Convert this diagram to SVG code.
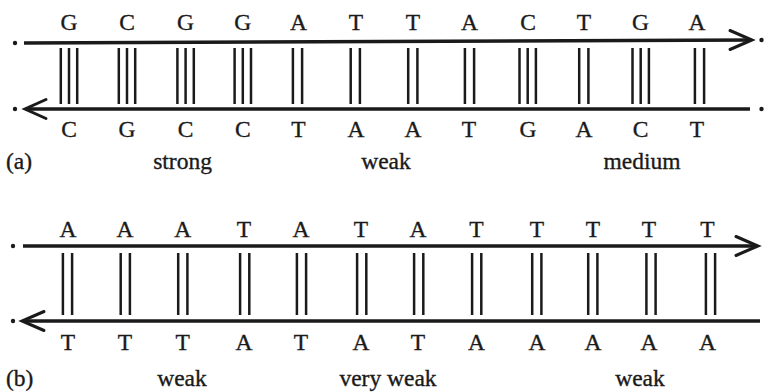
<svg xmlns="http://www.w3.org/2000/svg" width="764" height="392" viewBox="0 0 764 392" font-family="'Liberation Serif', 'DejaVu Serif', serif">
<style>
text{font-family:'Liberation Serif','DejaVu Serif',serif;font-size:23.5px;fill:#1a1a1a;stroke:#1a1a1a;stroke-width:0.35;text-anchor:middle}
.strand{stroke:#1a1a1a;stroke-width:3.6;fill:none}
.head{stroke:#1a1a1a;stroke-width:3;fill:none;stroke-linecap:round;stroke-linejoin:miter}
.bond{stroke:#1a1a1a;stroke-width:2.5}
.dot{fill:#1a1a1a}
.lbl{text-anchor:start}
</style>
<defs>
<g id="b3a"><line class="bond" x1="-8.2" y1="48" x2="-8.2" y2="104"/><line class="bond" x1="0" y1="48" x2="0" y2="104"/><line class="bond" x1="8.2" y1="48" x2="8.2" y2="104"/></g>
<g id="b2a"><line class="bond" x1="-4.6" y1="48" x2="-4.6" y2="104"/><line class="bond" x1="4.6" y1="48" x2="4.6" y2="104"/></g>
<g id="b2b"><line class="bond" x1="-4.6" y1="253" x2="-4.6" y2="315"/><line class="bond" x1="4.6" y1="253" x2="4.6" y2="315"/></g>
</defs>
<g id="connectors">
<line class="strand" x1="24" y1="43" x2="751" y2="40"/>
<polyline class="head" points="730,30.5 752,40 730,49.5"/>
<line class="strand" x1="27" y1="109" x2="750" y2="109"/>
<polyline class="head" points="46,99.5 25,109 46,118.5"/>
<line class="strand" x1="23" y1="246" x2="757" y2="246"/>
<polyline class="head" points="736,236.5 758,246 736,255.5"/>
<line class="strand" x1="23" y1="321" x2="760" y2="321"/>
<polyline class="head" points="44,311.5 22,321 44,330.5"/>
<circle class="dot" cx="15" cy="43" r="2.2"/>
<circle class="dot" cx="15" cy="109" r="2.2"/>
<circle class="dot" cx="761.5" cy="40" r="2.2"/>
<circle class="dot" cx="761.5" cy="109" r="2.2"/>
<circle class="dot" cx="13" cy="246" r="2.2"/>
<circle class="dot" cx="13" cy="321" r="2.2"/>
</g>
<g id="pair-a1"><use href="#b3a" x="69"/><text x="69" y="30">G</text><text x="69" y="137">C</text></g>
<g id="pair-a2"><use href="#b3a" x="127"/><text x="127" y="30">C</text><text x="127" y="137">G</text></g>
<g id="pair-a3"><use href="#b3a" x="185.6"/><text x="185.6" y="30">G</text><text x="185.6" y="137">C</text></g>
<g id="pair-a4"><use href="#b3a" x="242.8"/><text x="242.8" y="30">G</text><text x="242.8" y="137">C</text></g>
<g id="pair-a5"><use href="#b2a" x="297.5"/><text x="298.5" y="30">A</text><text x="298.5" y="137">T</text></g>
<g id="pair-a6"><use href="#b2a" x="355.3"/><text x="356" y="30">T</text><text x="356" y="137">A</text></g>
<g id="pair-a7"><use href="#b2a" x="412.8"/><text x="413" y="30">T</text><text x="413" y="137">A</text></g>
<g id="pair-a8"><use href="#b2a" x="469.5"/><text x="469.5" y="30">A</text><text x="469" y="137">T</text></g>
<g id="pair-a9"><use href="#b3a" x="527.7"/><text x="528" y="30">C</text><text x="528" y="137">G</text></g>
<g id="pair-a10"><use href="#b2a" x="583.8"/><text x="584" y="30">T</text><text x="584" y="137">A</text></g>
<g id="pair-a11"><use href="#b3a" x="640.7"/><text x="640.5" y="30">G</text><text x="640.5" y="137">C</text></g>
<g id="pair-a12"><use href="#b2a" x="699.5"/><text x="697" y="30">A</text><text x="697" y="137">T</text></g>
<g id="pair-b1"><use href="#b2b" x="67.5"/><text x="68" y="237">A</text><text x="68" y="350">T</text></g>
<g id="pair-b2"><use href="#b2b" x="125.3"/><text x="125" y="237">A</text><text x="125" y="350">T</text></g>
<g id="pair-b3"><use href="#b2b" x="182.8"/><text x="182.7" y="237">A</text><text x="182.7" y="350">T</text></g>
<g id="pair-b4"><use href="#b2b" x="244.7"/><text x="244" y="237">T</text><text x="244" y="350">A</text></g>
<g id="pair-b5"><use href="#b2b" x="301.5"/><text x="301" y="237">A</text><text x="301" y="350">T</text></g>
<g id="pair-b6"><use href="#b2b" x="361.7"/><text x="361" y="237">T</text><text x="361" y="350">A</text></g>
<g id="pair-b7"><use href="#b2b" x="418.7"/><text x="418" y="237">A</text><text x="418" y="350">T</text></g>
<g id="pair-b8"><use href="#b2b" x="476.7"/><text x="476.5" y="237">T</text><text x="476.5" y="350">A</text></g>
<g id="pair-b9"><use href="#b2b" x="536.8"/><text x="537" y="237">T</text><text x="537" y="350">A</text></g>
<g id="pair-b10"><use href="#b2b" x="592.8"/><text x="593" y="237">T</text><text x="593" y="350">A</text></g>
<g id="pair-b11"><use href="#b2b" x="651"/><text x="649" y="237">T</text><text x="649" y="350">A</text></g>
<g id="pair-b12"><use href="#b2b" x="710.5"/><text x="707.5" y="237">T</text><text x="707.5" y="350">A</text></g>
<g id="labels">
<text class="lbl" x="6" y="169">(a)</text>
<text x="182.5" y="169">strong</text>
<text x="386" y="169">weak</text>
<text x="642" y="169">medium</text>
<text class="lbl" x="6" y="386">(b)</text>
<text x="182" y="386">weak</text>
<text x="388" y="386">very weak</text>
<text x="640" y="386">weak</text>
</g>
</svg>
